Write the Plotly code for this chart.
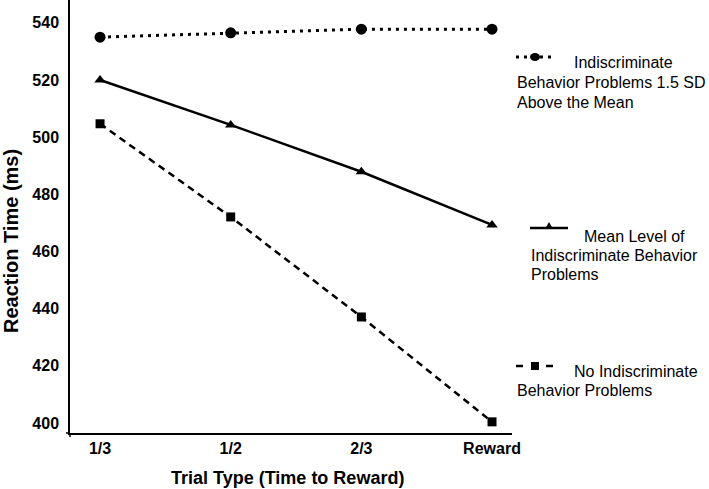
import plotly.graph_objects as go

categories = ["1/3", "1/2", "2/3", "Reward"]
high_vals = [535.0, 536.5, 537.8, 537.8]
mean_vals = [520.0, 504.3, 487.9, 469.3]
none_vals = [504.7, 472.1, 437.1, 400.4]
y_ticks = [400, 420, 440, 460, 480, 500, 520, 540]

legend_high = ["Indiscriminate", "Behavior Problems 1.5 SD", "Above the Mean"]
legend_mean = ["Mean Level of", "Indiscriminate Behavior", "Problems"]
legend_none = ["No Indiscriminate", "Behavior Problems"]

FONT = "Liberation Sans, Arial, sans-serif"
W, H = 709, 489
L, R, T, B = 70, 197, 0, 56
PW, PH = W - L - R, H - T - B

def px(x):
    return (x - L) / PW

def py(y):
    return (H - B - y) / PH

xs = list(range(len(categories)))
fig = go.Figure()
fig.add_trace(go.Scatter(x=xs, y=high_vals, mode="lines+markers",
                         line=dict(color="black", width=3, dash="3px,5px"),
                         marker=dict(symbol="circle", size=11, color="black"),
                         showlegend=False, cliponaxis=False))
fig.add_trace(go.Scatter(x=xs, y=mean_vals, mode="lines+markers",
                         line=dict(color="black", width=2.5),
                         marker=dict(symbol="triangle-up", size=10, color="black"),
                         showlegend=False, cliponaxis=False))
fig.add_trace(go.Scatter(x=xs, y=none_vals, mode="lines+markers",
                         line=dict(color="black", width=2.5, dash="7px,5px"),
                         marker=dict(symbol="square", size=9, color="black"),
                         showlegend=False, cliponaxis=False))

annotations = []
shapes = []

def add_text(x, y, text, size=16, angle=0, xanchor="left"):
    annotations.append(dict(
        x=px(x), y=py(y), xref="paper", yref="paper", text=text,
        showarrow=False, xanchor=xanchor, yanchor="middle", textangle=angle,
        borderpad=0,
        font=dict(family=FONT, size=size, color="black")))

# Legend entry 1 (dotted circles)
shapes.append(dict(type="line", xref="paper", yref="paper",
                   x0=px(516), x1=px(552), y0=py(57), y1=py(57),
                   line=dict(color="black", width=3, dash="3px,5px")))
shapes.append(dict(type="circle", xref="paper", yref="paper",
                   x0=px(530), x1=px(540), y0=py(61), y1=py(53),
                   fillcolor="black", line=dict(color="black", width=0)))
add_text(573, 63, legend_high[0])
add_text(516, 83, legend_high[1])
add_text(516, 102, legend_high[2])

# Legend entry 2 (solid triangles)
shapes.append(dict(type="line", xref="paper", yref="paper",
                   x0=px(530), x1=px(568), y0=py(228), y1=py(228),
                   line=dict(color="black", width=2.5)))
shapes.append(dict(type="path", xref="paper", yref="paper",
                   path=f"M {px(545)},{py(229)} L {px(553)},{py(229)} L {px(549)},{py(222)} Z",
                   fillcolor="black", line=dict(color="black", width=0)))
add_text(583, 236, legend_mean[0])
add_text(530, 255, legend_mean[1])
add_text(530, 274, legend_mean[2])

# Legend entry 3 (dashed squares)
for x0, x1 in [(516, 523), (546, 553)]:
    shapes.append(dict(type="line", xref="paper", yref="paper",
                       x0=px(x0), x1=px(x1), y0=py(366), y1=py(366),
                       line=dict(color="black", width=2.5)))
shapes.append(dict(type="rect", xref="paper", yref="paper",
                   x0=px(531), x1=px(539), y0=py(370), y1=py(362),
                   fillcolor="black", line=dict(color="black", width=0)))
add_text(573, 371, legend_none[0])
add_text(516, 390, legend_none[1])

# Axis titles
add_text(287, 478, "<b>Trial Type (Time to Reward)</b>", size=18, xanchor="center")
add_text(11, 241, "<b>Reaction Time (ms)</b>", size=20, angle=-90, xanchor="center")

# small axis overhang at the origin
shapes.append(dict(type="line", xref="paper", yref="paper",
                   x0=px(70), x1=px(70), y0=py(433), y1=py(437),
                   line=dict(color="black", width=1.5)))
shapes.append(dict(type="line", xref="paper", yref="paper",
                   x0=px(66), x1=px(70), y0=py(433), y1=py(433),
                   line=dict(color="black", width=1.5)))

fig.update_layout(
    width=W, height=H,
    margin=dict(l=L, r=R, t=T, b=B, autoexpand=False),
    paper_bgcolor="white", plot_bgcolor="white",
    font=dict(family=FONT, color="black"),
    showlegend=False,
    annotations=annotations,
    shapes=shapes,
)
fig.update_xaxes(range=[-0.23, 3.153], tickmode="array", tickvals=xs,
                 ticktext=[f"<b>{c}</b>" for c in categories],
                 showline=True, linecolor="black", linewidth=1.5,
                 showgrid=False, zeroline=False, ticks="",
                 tickfont=dict(family=FONT, size=16, color="black"))
fig.update_yaxes(range=[396.5, 548], tickmode="array", tickvals=y_ticks,
                 ticktext=[f"<b>{v}</b>" for v in y_ticks],
                 showline=True, linecolor="black", linewidth=1.5,
                 showgrid=False, zeroline=False, ticks="",
                 ticklabelstandoff=6,
                 tickfont=dict(family=FONT, size=16, color="black"))

fig.write_html("out.html",
               config={"displayModeBar": False},
               post_script="document.body.style.margin='0';document.body.style.overflow='hidden';")
